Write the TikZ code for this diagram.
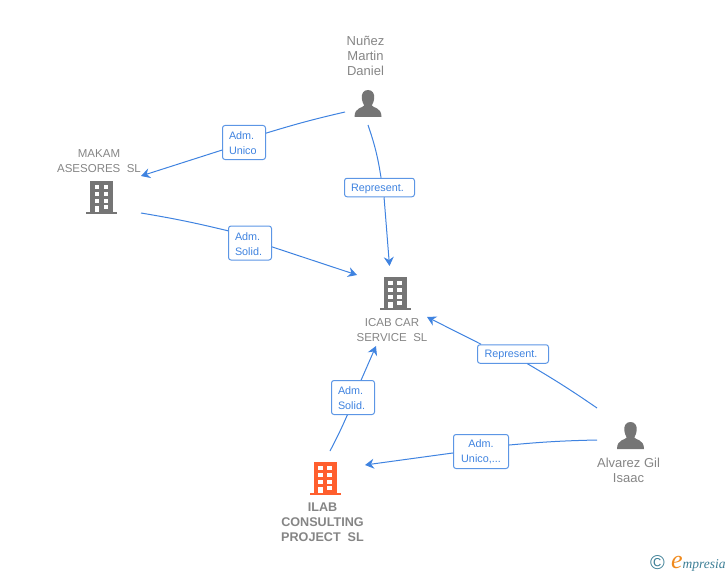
\documentclass[tikz,border=0pt]{standalone}
\usepackage{fontspec}
\setmainfont{Liberation Sans}
\newfontfamily\logofont{Liberation Serif}
\usetikzlibrary{arrows.meta}
\definecolor{linkblue}{HTML}{3F83E0}
\definecolor{iconGray}{HTML}{757575}
\definecolor{textGray}{HTML}{858585}
\definecolor{iconOrange}{HTML}{FF5F2E}
\definecolor{logoTeal}{HTML}{3D7F96}
\definecolor{logoOrange}{HTML}{F08A1D}
\tikzset{
  party/.style={text=textGray, align=center, inner sep=0pt, font=\fontsize{11.5}{15}\selectfont},
  person name/.style={party, font=\fontsize{13}{15}\selectfont},
  boldparty/.style={party, font=\fontsize{12.6}{15}\selectfont\bfseries},
  tag/.style={draw=linkblue!85, line width=1pt, rounded corners=2.5pt, fill=white, text=linkblue,
    align=center, inner sep=0pt, font=\fontsize{10.8}{15}\selectfont,
    execute at begin node={\rule{0pt}{10pt}}},
  twoline/.style={tag, align=left, text width=30pt, minimum width=43pt, minimum height=34pt},
  oneline/.style={tag, align=left, text width=57pt, minimum width=70pt, minimum height=18.5pt},
  link/.style={draw=linkblue, line width=1pt},
  linkhead/.style={link, -{Stealth[length=9pt,width=10pt,inset=3pt]}},
  pics/building/.style={code={
    \fill[#1] (-11.5,0) rectangle (11.5,31);
    \fill[#1] (-15.5,31) rectangle (15.5,33);
    \foreach \yy in {3.5,10.5,17.5}{
      \fill[white] (-7,\yy) rectangle (-2.3,\yy+4.7);
      \fill[white] (2,\yy) rectangle (6.8,\yy+4.7);
    }
    \fill[white] (2,23.5) rectangle (6.8,28);
    \fill[white] (-7,24.5) rectangle (-2.3,31);
  }},
  pics/person/.style={code={
    \fill[iconGray] (0,0) .. controls (4.5,0) and (6.5,3.5) .. (6.2,8)
      .. controls (6,11.5) and (4.5,14) .. (3.8,15.5) .. controls (5,18) and (13.5,17) .. (13.5,27)
      -- (-13.5,27) .. controls (-13.5,17) and (-5,18) .. (-3.8,15.5)
      .. controls (-4.5,14) and (-6,11.5) .. (-6.2,8) .. controls (-6.5,3.5) and (-4.5,0) .. (0,0) -- cycle;
  }}
}
\begin{document}
\begin{tikzpicture}[x=1pt, y=-1pt]
\useasboundingbox (0,0) rectangle (728,575);

\pic (nunezicon) at (368,90) {person};
\pic (alvarezicon) at (630.5,422) {person};
\pic (makamicon) at (101.5,181) {building=iconGray};
\pic (icabicon) at (395,277) {building=iconGray};
\pic (ilabicon) at (325,462) {building=iconOrange};

\node[person name] (nunez) at (365.5,56) {Nuñez\\Martin\\Daniel};
\node[party] (makam) at (99,161) {MAKAM\\ASESORES\ \ SL};
\node[party] (icab) at (392,330) {ICAB CAR\\SERVICE\ \ SL};
\node[person name] (alvarez) at (628.5,470) {Alvarez Gil\\Isaac};
\node[boldparty] (ilab) at (322.5,522) {ILAB\\CONSULTING\\PROJECT\ \ SL};

\node[twoline] (admunico) at (244,142.5) {Adm.\\Unico};
\node[oneline] (represent) at (379.5,187.5) {Represent.};
\node[twoline] (admsolid) at (250,243) {Adm.\\Solid.};
\node[oneline, minimum width=71pt] (representb) at (513,354) {Represent.};
\node[tag, minimum width=55pt, minimum height=34pt] (admunicob) at (481,451.5) {Adm.\\Unico,...};
\node[twoline] (admsolidb) at (353,397.5) {Adm.\\Solid.};

\coordinate (nunezleft) at (345,112);
\coordinate (nunezdown) at (368,125);
\coordinate (makamin) at (141,176);
\coordinate (makamout) at (141,213);
\coordinate (icabtop) at (389.5,266);
\coordinate (icabwest) at (357,275);
\coordinate (icabeast) at (427,317);
\coordinate (icabsouth) at (376,346);
\coordinate (alvareztop) at (597,408);
\coordinate (alvarezleft) at (597,440);
\coordinate (ilabin) at (365,465);
\coordinate (ilabtop) at (330,451);

\draw[link] (nunezleft) to[bend right=2] (admunico.23);
\draw[linkhead] (admunico.199) to (makamin);
\draw[link] (nunezdown) to[bend left=5] (represent.81);
\draw[linkhead] (represent.295) to (icabtop);
\draw[link] (makamout) to[bend left=2] (admsolid.151);
\draw[linkhead] (admsolid.350) to (icabwest);
\draw[link] (alvareztop) to[bend right=2] (representb.326);
\draw[linkhead] (representb.163) to (icabeast);
\draw[link] (alvarezleft) to[bend right=2] (admunicob.13);
\draw[linkhead] (admunicob.183) to (ilabin);
\draw[link] (ilabtop) to[bend right=2] (admsolidb.252);
\draw[linkhead] (admsolidb.65) to (icabsouth);

\node[text=logoTeal, inner sep=0pt, font=\fontsize{20}{20}\selectfont] (copyrightmark) at (657.5,563) {©};
\node[text=logoTeal, inner sep=0pt, anchor=base west, font=\logofont\fontsize{13.5}{14}\selectfont\itshape] (logo) at (671,568)
  {{\color{logoOrange}\fontsize{26}{26}\selectfont e}mpresia};
\end{tikzpicture}
\end{document}
